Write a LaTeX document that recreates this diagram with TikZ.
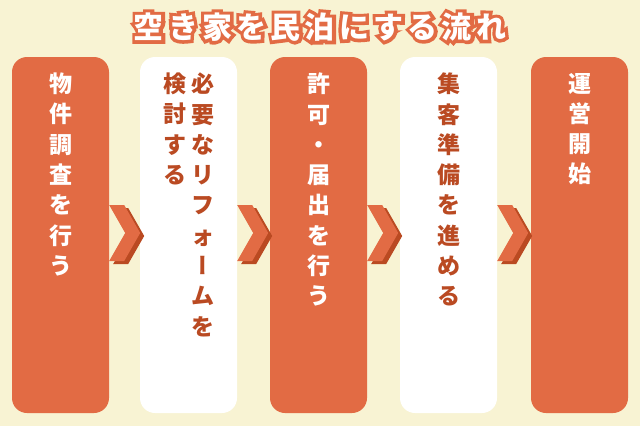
\documentclass[tikz,border=0pt]{standalone}
\usepackage{fontspec}
\usepackage{tikz}
\usetikzlibrary{positioning}
\newfontfamily\jp{Noto Sans CJK JP}
\definecolor{ocol}{RGB}{226,107,68}
\definecolor{dcol}{RGB}{186,74,34}
\definecolor{bgcol}{RGB}{248,243,211}
\tikzset{stepbox/.style={rounded corners=15pt,minimum width=97pt,minimum height=356pt,inner sep=0pt}}
\tikzset{lab/.style={font=\jp\bfseries\fontsize{23}{30.3}\selectfont,align=center,inner sep=0pt}}
\tikzset{ttl/.style={font=\jp\bfseries\fontsize{30}{32}\selectfont\addfontfeature{LetterSpace=14},inner sep=0pt}}
\tikzset{ttlline/.style={ttl,text=ocol,font=\jp\bfseries\fontsize{30}{32}\selectfont\addfontfeature{LetterSpace=14,FakeBold=22}}}
\tikzset{chev/.pic={
  \fill[dcol] (4,-25) -- (19,-25) -- (35,3) -- (19,31) -- (4,31) -- (20,3) -- cycle;
  \fill[ocol] (0,-28) -- (15,-28) -- (31,0) -- (15,28) -- (0,28) -- (16,0) -- cycle;
}}
\newcommand{\vbar}{{\addfontfeature{RawFeature=+vert}ー}}
\begin{document}
\begin{tikzpicture}[x=1pt,y=-1pt]
\path[use as bounding box,fill=bgcol] (0,0) rectangle (640,426);

% title, orange rim under white letters
\node [ttlline] (titlerim) at (320,27) {空き家を民泊にする流れ};
\node [ttl,text=white] (title) at (320,27) {空き家を民泊にする流れ};

\node [stepbox,fill=ocol] (b1) at (60.5,235) {};
\node [stepbox,fill=white] (b2) at (188.5,235) {};
\node [stepbox,fill=ocol] (b3) at (318.5,235) {};
\node [stepbox,fill=white] (b4) at (448.5,235) {};
\node [stepbox,fill=ocol] (b5) at (579.5,235) {};

\node [lab,text=white,below=16pt of b1.north] (l1) {物\\件\\調\\査\\を\\行\\う};
\node [lab,text=dcol,below=16pt of b2.north,xshift=14pt] (l2a) {必\\要\\な\\リ\\フ\\ォ\\\vbar\\ム\\を};
\node [lab,text=dcol,below=16pt of b2.north,xshift=-14pt] (l2b) {検\\討\\す\\る};
\node [lab,text=white,below=16pt of b3.north] (l3) {許\\可\\・\\届\\出\\を\\行\\う};
\node [lab,text=dcol,below=16pt of b4.north] (l4) {集\\客\\準\\備\\を\\進\\め\\る};
\node [lab,text=white,below=16pt of b5.north] (l5) {運\\営\\開\\始};

\path (b1.east) ++(0,-2) pic {chev};
\path (b2.east) ++(0,-2) pic {chev};
\path (b3.east) ++(0,-2) pic {chev};
\path (b4.east) ++(0,-2) pic {chev};
\end{tikzpicture}
\end{document}
